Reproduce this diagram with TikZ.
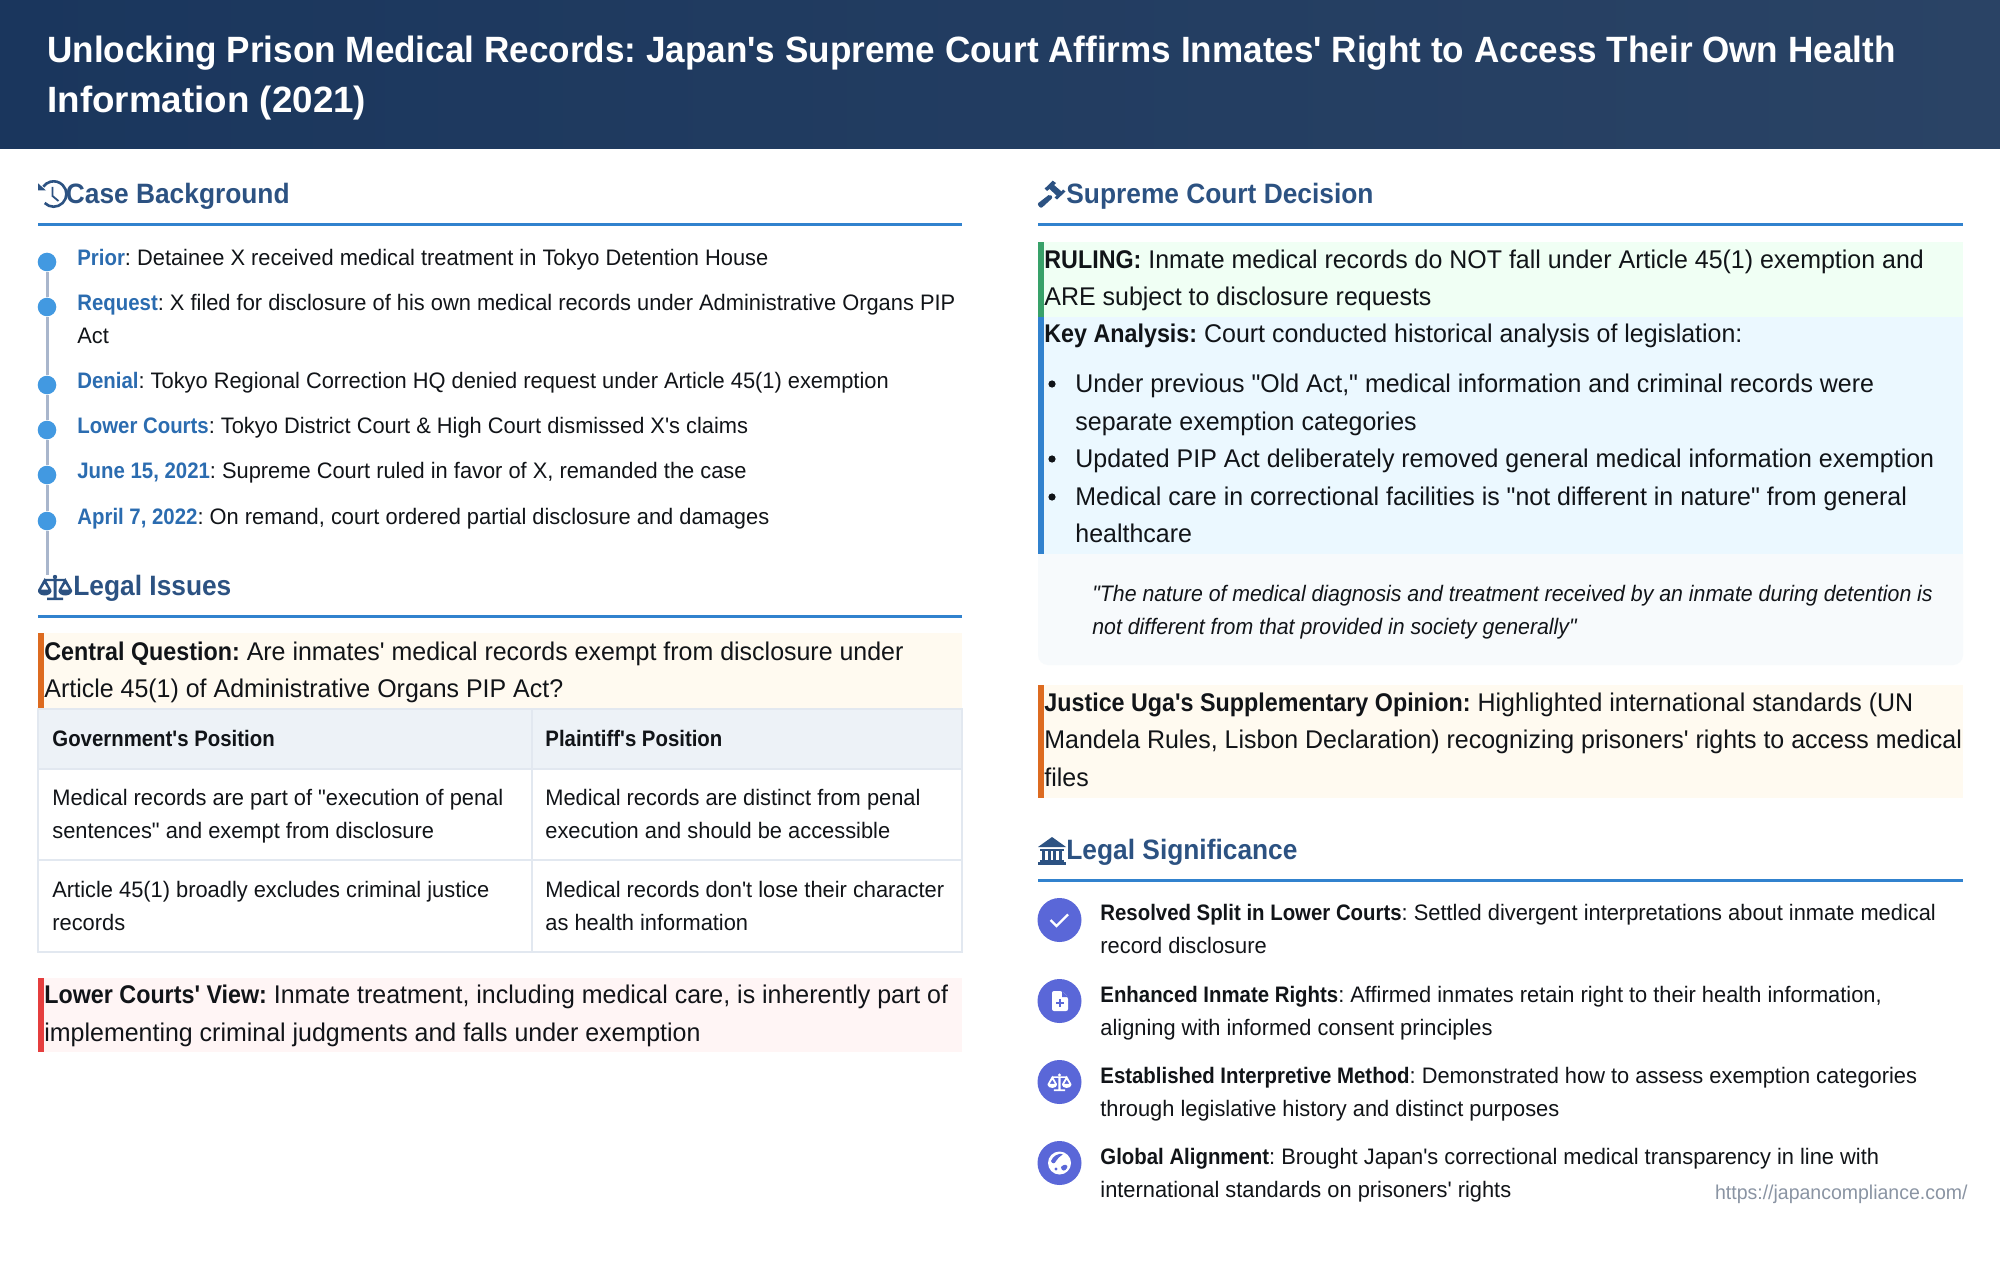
\documentclass[tikz,border=0pt]{standalone}
\usepackage{fontspec}
\newfontfamily\bodyfamily[UprightFeatures={FakeStretch=.975},BoldFeatures={FakeStretch=.91},ItalicFeatures={FakeStretch=.95}]{Liberation Sans}
\newfontfamily\titlefamily[BoldFeatures={FakeStretch=.959}]{Liberation Sans}
\newfontfamily\titlewide[BoldFeatures={FakeStretch=1.005}]{Liberation Sans}
\newfontfamily\headingfamily[BoldFeatures={FakeStretch=.94}]{Liberation Sans}
\definecolor{headerleft}{HTML}{1A365D}
\definecolor{headerright}{HTML}{2A4365}
\definecolor{headingblue}{HTML}{2C5282}
\definecolor{ruleblue}{HTML}{3182CE}
\definecolor{dotblue}{HTML}{4299E1}
\definecolor{labelblue}{HTML}{2B6CB0}
\definecolor{spinegrey}{HTML}{A9B6CC}
\definecolor{inkdark}{HTML}{111418}
\definecolor{orangebar}{HTML}{DD6B20}
\definecolor{orangefill}{HTML}{FFFAF0}
\definecolor{greenbar}{HTML}{38A169}
\definecolor{greenfill}{HTML}{F0FFF4}
\definecolor{bluefill}{HTML}{EBF8FF}
\definecolor{redbar}{HTML}{E53E3E}
\definecolor{redfill}{HTML}{FFF5F5}
\definecolor{tablehead}{HTML}{EDF2F7}
\definecolor{tableline}{HTML}{E2E8F0}
\definecolor{quotefill}{HTML}{F7FAFC}
\definecolor{badgeblue}{HTML}{5A67D8}
\definecolor{urlgrey}{HTML}{8A94A3}
\providecommand{\titlefontsize}{\fontsize{18.3}{25}\selectfont}
\providecommand{\headingfontsize}{\fontsize{14}{18}\selectfont}
\providecommand{\bodyfontsize}{\fontsize{11.2}{16.5}\selectfont}
\providecommand{\calloutfontsize}{\fontsize{12.8}{18.75}\selectfont}
\providecommand{\urlfontsize}{\fontsize{10}{12}\selectfont}
\tikzset{
    titletext/.style={anchor=base west,inner sep=0,align=left,text=white,font=\titlefamily\titlefontsize\bfseries},
    headingtext/.style={anchor=base west,inner sep=0,text=headingblue,font=\headingfamily\headingfontsize\bfseries},
    bodytext/.style={anchor=base west,inner sep=0,align=left,text=inkdark,font=\bodyfamily\bodyfontsize},
    callouttext/.style={anchor=base west,inner sep=0,align=left,text=inkdark,font=\bodyfamily\calloutfontsize},
    spinedot/.style={circle,fill=dotblue,inner sep=0,minimum size=9.3pt},
    spine/.style={draw=spinegrey,line width=1.5pt},
    headrule/.style={draw=ruleblue,line width=1.5pt},
    badge/.style={circle,fill=badgeblue,inner sep=0,minimum size=22pt},
    tablerule/.style={draw=tableline,line width=.8pt},
    bulletdot/.style={circle,fill=inkdark,inner sep=0,minimum size=3.6pt}
}
% balance, used in a heading and in a badge
\newcommand{\scalesicon}[4]{%
    \begin{scope}[shift={(#1,#2)},scale=#3]
        \fill[#4] (-10,-8.2) -- (10,-8.2) -- (10,-5.8) -- (1.5,-5.8) -- (1.5,10.5) -- (8,10.5) -- (8,13) -- (-8,13) -- (-8,10.5) -- (-1.5,10.5) -- (-1.5,-5.8) -- (-10,-5.8) -- cycle;
        \fill[#4] (0,-10) circle (2.2);
        \fill[#4,even odd rule] (-10.3,-9) -- (-3.6,3) -- (-3.6,4.5) -- (-17,4.5) -- (-17,3) -- cycle (-10.3,-3.5) -- (-14,2.5) -- (-6.6,2.5) -- cycle;
        \fill[#4] (-17,4) arc (180:0:6.7 and 4.5) -- cycle;
        \fill[#4,even odd rule] (10.3,-9) -- (17,3) -- (17,4.5) -- (3.6,4.5) -- (3.6,3) -- cycle (10.3,-3.5) -- (6.6,2.5) -- (14,2.5) -- cycle;
        \fill[#4] (3.6,4) arc (180:0:6.7 and 4.5) -- cycle;
    \end{scope}}
\begin{document}
\frenchspacing
\begin{tikzpicture}[x=.5pt,y=-.5pt]
    \pgfmathsetmacro{\leftx}{38}
    \pgfmathsetmacro{\leftend}{962}
    \pgfmathsetmacro{\rightx}{1038}
    \pgfmathsetmacro{\rightend}{1963}
    \pgfmathsetmacro{\barwidth}{6}
    \pgfmathsetmacro{\tablesplit}{532}
    \useasboundingbox (0,0) rectangle (2000,1262);
    \fill[white] (0,0) rectangle (2000,1262);
    \shade[left color=headerleft,right color=headerright] (0,0) rectangle (2000,149);
    \node[titletext] (pagetitle) at (47,112.3) {Unlocking Prison Medical Records: Japan's Supreme Court Affirms Inmates' Right to Access Their Own Health\\{\titlewide\bfseries Information (2021)}};

    % left column
    \draw[line width=1.3pt,draw=headingblue] (44.7,203) arc (135:-145:12.7);
    \fill[headingblue] (38,183.3) -- (46,190.5) -- (38,190.5) -- cycle;
    \draw[line width=.9pt,draw=headingblue] (52.5,187) -- (52.5,196) -- (58.5,201);
    \node[headingtext] (backgroundhead) at (65.5,204) {Case Background};
    \draw[headrule] (\leftx,225) -- (\leftend,225);

    \node[spinedot] (priordot) at (47,262) {};
    \node[spinedot] (requestdot) at (47,307) {};
    \node[spinedot] (denialdot) at (47,385) {};
    \node[spinedot] (lowerdot) at (47,430) {};
    \node[spinedot] (junedot) at (47,475) {};
    \node[spinedot] (aprildot) at (47,521) {};
    \coordinate (spineend) at (47,575);
    \draw[spine] (priordot) -- (requestdot);
    \draw[spine] (requestdot) -- (denialdot);
    \draw[spine] (denialdot) -- (lowerdot);
    \draw[spine] (lowerdot) -- (junedot);
    \draw[spine] (junedot) -- (aprildot);
    \draw[spine] (aprildot) -- (spineend);
    \node[bodytext] (priortext) at (77,266) {\textcolor{labelblue}{\textbf{Prior}}: Detainee X received medical treatment in Tokyo Detention House};
    \node[bodytext] (requesttext) at (77,343.5) {\textcolor{labelblue}{\textbf{Request}}: X filed for disclosure of his own medical records under Administrative Organs PIP\\Act};
    \node[bodytext] (denialtext) at (77,388) {\textcolor{labelblue}{\textbf{Denial}}: Tokyo Regional Correction HQ denied request under Article 45(1) exemption};
    \node[bodytext] (lowertext) at (77,433) {\textcolor{labelblue}{\textbf{Lower Courts}}: Tokyo District Court \& High Court dismissed X's claims};
    \node[bodytext] (junetext) at (77,478) {\textcolor{labelblue}{\textbf{June 15, 2021}}: Supreme Court ruled in favor of X, remanded the case};
    \node[bodytext] (apriltext) at (77,524) {\textcolor{labelblue}{\textbf{April 7, 2022}}: On remand, court ordered partial disclosure and damages};

    \scalesicon{55}{587}{1}{headingblue}
    \node[headingtext] (issueshead) at (73,595.5) {Legal Issues};
    \draw[headrule] (\leftx,616.5) -- (\leftend,616.5);

    \fill[orangefill] (\leftx,633) rectangle (\leftend,709);
    \fill[orangebar] (\leftx,633) rectangle (\leftx+\barwidth,709);
    \node[callouttext] (questiontext) at (44,697.5) {\textbf{Central Question:} Are inmates' medical records exempt from disclosure under\\Article 45(1) of Administrative Organs PIP Act?};

    \fill[tablehead] (\leftx,709) rectangle (\leftend,769);
    \draw[tablerule] (\leftx,709) rectangle (\leftend,952);
    \draw[tablerule] (\leftx,769) -- (\leftend,769);
    \draw[tablerule] (\leftx,860) -- (\leftend,860);
    \draw[tablerule] (\tablesplit,709) -- (\tablesplit,952);
    \node[bodytext] (govhead) at (52,746) {\textbf{Government's Position}};
    \node[bodytext] (plainthead) at (545,746) {\textbf{Plaintiff's Position}};
    \node[bodytext] (govone) at (52,838) {Medical records are part of "execution of penal\\sentences" and exempt from disclosure};
    \node[bodytext] (plaintone) at (545,838) {Medical records are distinct from penal\\execution and should be accessible};
    \node[bodytext] (govtwo) at (52,930) {Article 45(1) broadly excludes criminal justice\\records};
    \node[bodytext] (plainttwo) at (545,930) {Medical records don't lose their character\\as health information};

    \fill[redfill] (\leftx,978) rectangle (\leftend,1052);
    \fill[redbar] (\leftx,978) rectangle (\leftx+\barwidth,1052);
    \node[callouttext] (lowerview) at (44,1041) {\textbf{Lower Courts' View:} Inmate treatment, including medical care, is inherently part of\\implementing criminal judgments and falls under exemption};

    % right column
    \fill[headingblue] (1052.7,180.7) -- (1056,183) -- (1054,185) -- (1061.5,191.5) -- (1063,189.5) -- (1065.5,191.5) -- (1057,199.5) -- (1054.5,197.5) -- (1056.5,195.5) -- (1049.5,189) -- (1047,191) -- (1044.7,188.5) -- cycle;
    \fill[headingblue,rounded corners=1pt] (1037,204) -- (1050,194) -- (1053,197.5) -- (1041,208.5) -- cycle;
    \node[headingtext] (decisionhead) at (1066,204) {Supreme Court Decision};
    \draw[headrule] (\rightx,225) -- (\rightend,225);

    \fill[greenfill] (\rightx,242) rectangle (\rightend,317);
    \fill[greenbar] (\rightx,242) rectangle (\rightx+\barwidth,317);
    \node[callouttext] (rulingtext) at (1044,305.7) {\textbf{RULING:} Inmate medical records do NOT fall under Article 45(1) exemption and\\ARE subject to disclosure requests};

    \fill[bluefill] (\rightx,317) rectangle (\rightend,554);
    \fill[ruleblue] (\rightx,317) rectangle (\rightx+\barwidth,554);
    \node[callouttext] (analysistext) at (1044,343) {\textbf{Key Analysis:} Court conducted historical analysis of legislation:};
    \node[bulletdot] (oldbullet) at (1052,384) {};
    \node[bulletdot] (pipbullet) at (1052,459) {};
    \node[bulletdot] (carebullet) at (1052,497) {};
    \node[callouttext] (oldtext) at (1075,430) {Under previous "Old Act," medical information and criminal records were\\separate exemption categories};
    \node[callouttext] (piptext) at (1075,467) {Updated PIP Act deliberately removed general medical information exemption};
    \node[callouttext] (caretext) at (1075,542.5) {Medical care in correctional facilities is "not different in nature" from general\\healthcare};

    \fill[quotefill] (\rightx,554) -- (\rightend,554) [rounded corners=5pt] -- (\rightend,665) -- (\rightx,665) [sharp corners] -- (\rightx,554) -- cycle;
    \node[bodytext,font=\bodyfamily\bodyfontsize\itshape] (quotetext) at (1092,634) {"The nature of medical diagnosis and treatment received by an inmate during detention is\\not different from that provided in society generally"};

    \fill[orangefill] (\rightx,685) rectangle (\rightend,798);
    \fill[orangebar] (\rightx,685) rectangle (\rightx+\barwidth,798);
    \node[callouttext] (justicetext) at (1044,786) {\textbf{Justice Uga's Supplementary Opinion:} Highlighted international standards (UN\\Mandela Rules, Lisbon Declaration) recognizing prisoners' rights to access medical\\files};

    \fill[headingblue] (1038,847) -- (1052,837) -- (1066,847) -- cycle;
    \fill[headingblue] (1040,849) rectangle (1064,851);
    \fill[headingblue] (1042,851) rectangle (1045,860);
    \fill[headingblue] (1048,851) rectangle (1051,860);
    \fill[headingblue] (1053,851) rectangle (1056,860);
    \fill[headingblue] (1059,851) rectangle (1062,860);
    \fill[headingblue] (1040,860) rectangle (1064,862);
    \fill[headingblue] (1038,862) rectangle (1066,865);
    \node[headingtext] (significancehead) at (1066,859) {Legal Significance};
    \draw[headrule] (\rightx,880) -- (\rightend,880);

    \node[badge] (splitbadge) at (1059.5,920) {};
    \draw[white,line width=1.2pt] (1050.5,920) -- (1056.5,926) -- (1068,914.5);
    \node[bodytext] (splittext) at (1100,953.5) {\textbf{Resolved Split in Lower Courts}: Settled divergent interpretations about inmate medical\\record disclosure};

    \node[badge] (rightsbadge) at (1059.5,1001) {};
    \fill[white,rounded corners=1pt] (1052,991) -- (1062,991) -- (1068,997) -- (1068,1011) -- (1052,1011) -- cycle;
    \fill[badgeblue] (1062,991) -- (1062,997) -- (1068,997) -- cycle;
    \fill[badgeblue] (1058.7,999) rectangle (1060.7,1007);
    \fill[badgeblue] (1055.7,1002) rectangle (1063.7,1004);
    \node[bodytext] (rightstext) at (1100,1035.5) {\textbf{Enhanced Inmate Rights}: Affirmed inmates retain right to their health information,\\aligning with informed consent principles};

    \node[badge] (methodbadge) at (1059.5,1082) {};
    \scalesicon{1059.5}{1082}{.7}{white}
    \node[bodytext] (methodtext) at (1100,1116) {\textbf{Established Interpretive Method}: Demonstrated how to assess exemption categories\\through legislative history and distinct purposes};

    \node[badge] (globalbadge) at (1059.5,1163) {};
    \fill[white] (1059.5,1163) circle (11.5);
    \fill[badgeblue] (1051,1161) .. controls (1053,1156) and (1058,1153) .. (1063,1154) .. controls (1060,1157) and (1057,1158) .. (1056,1161) .. controls (1055,1164) and (1052,1164) .. (1051,1161) -- cycle;
    \fill[badgeblue] (1061,1167) .. controls (1064,1163) and (1069,1165) .. (1067,1168) .. controls (1065,1172) and (1061,1171) .. (1061,1167) -- cycle;
    \fill[badgeblue] (1056,1169) circle (1.6);
    \node[bodytext] (globaltext) at (1100,1197) {\textbf{Global Alignment}: Brought Japan's correctional medical transparency in line with\\international standards on prisoners' rights};

    \node[anchor=base east,inner sep=0,text=urlgrey,font=\bodyfamily\urlfontsize] (sourceurl) at (1968,1199) {https://japancompliance.com/};
\end{tikzpicture}
\end{document}
